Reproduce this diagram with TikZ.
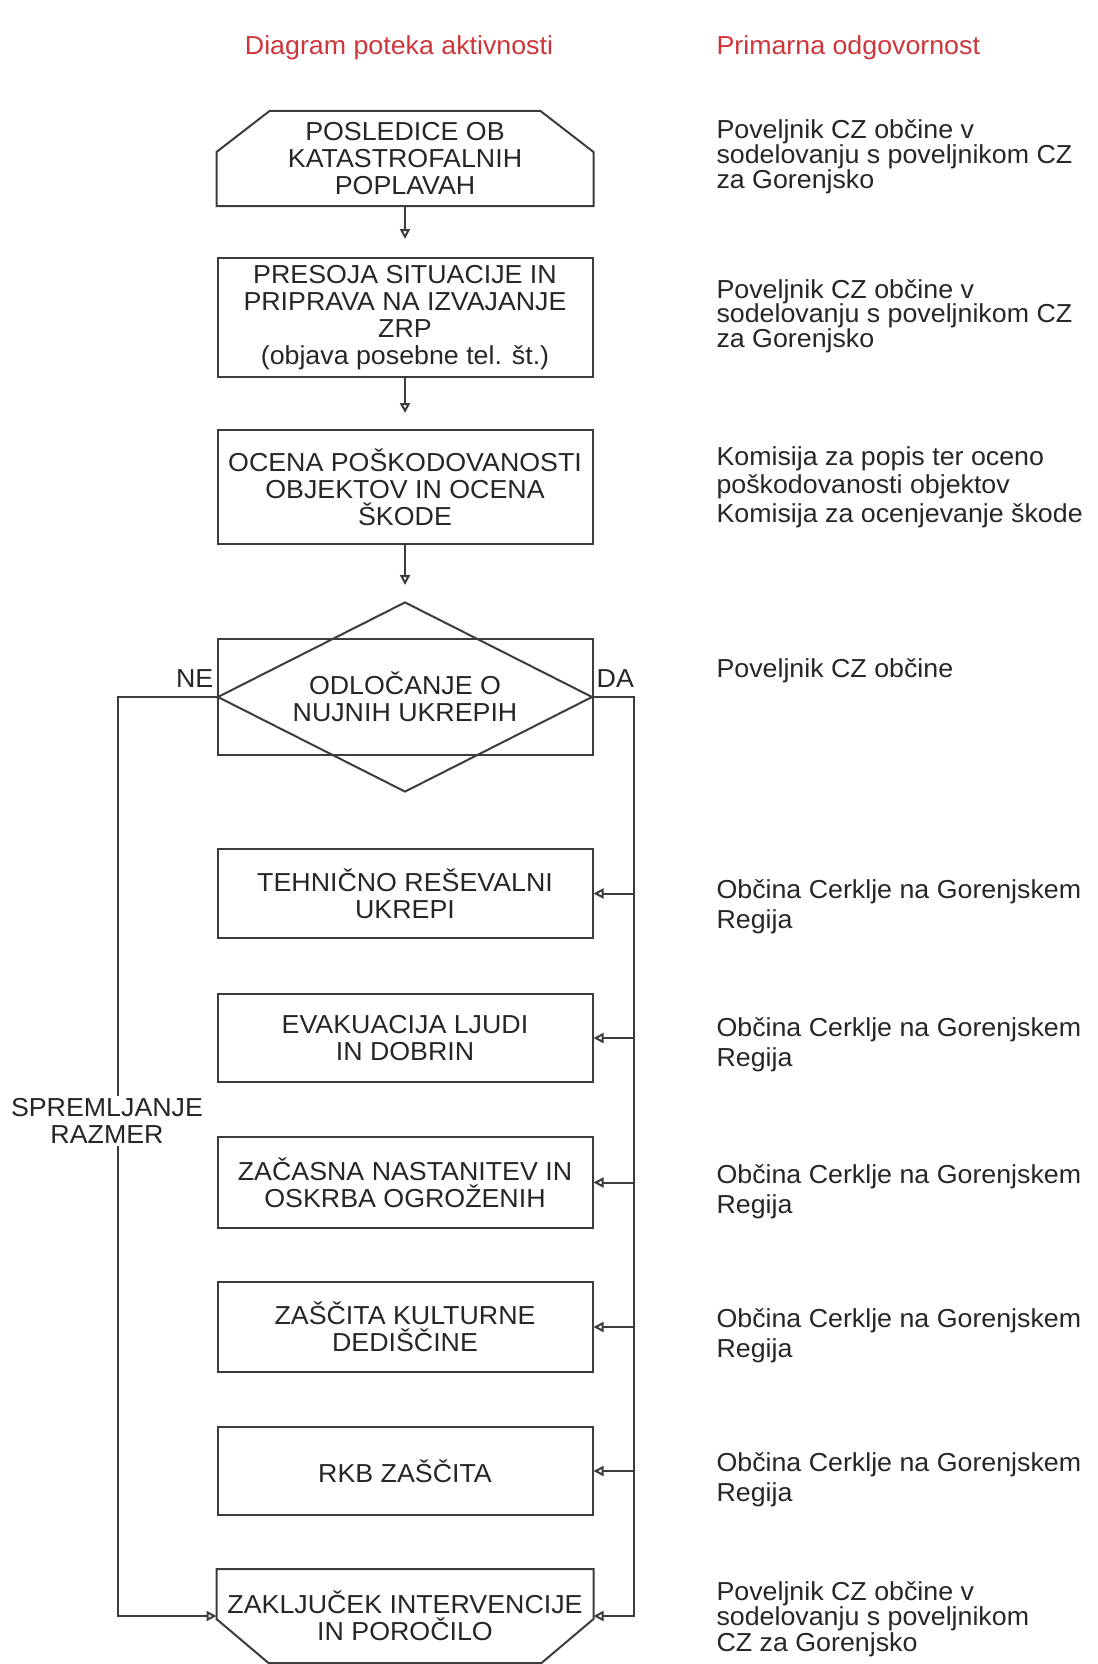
\documentclass[tikz,border=0pt]{standalone}
\usepackage{fontspec}
\setmainfont[FakeStretch=1.03]{Liberation Sans}
\usepackage{tikz}
\usetikzlibrary{shapes.geometric,arrows.meta,calc}

\definecolor{naslov}{RGB}{205,55,60}
\definecolor{crta}{RGB}{60,60,60}

\begin{document}
\begin{tikzpicture}[x=1pt,y=1pt,
  every node/.style={font=\fontsize{26}{27}\selectfont, text=black!85},
  box/.style={draw=crta, line width=2pt, minimum width=375pt, inner sep=0pt, align=center},
  obris/.style={draw=crta, line width=2pt, line join=miter},
  tok/.style={draw=crta, line width=2pt, -{Triangle[open,length=10pt,width=10pt]}},
  odg/.style={anchor=west, align=left, font=\fontsize{26}{#1}\selectfont}]
  \useasboundingbox (0,0) rectangle (1097,-1664);

  % naslova stolpcev
  \node[text=naslov] (nasl1) at (399,-48) {Diagram poteka aktivnosti};
  \node[text=naslov, anchor=west] (nasl2) at (713,-48) {Primarna odgovornost};

  % diagram poteka
  \node[box, draw=none, minimum height=93pt] (posl) at (405,-158.5) {POSLEDICE OB\\KATASTROFALNIH\\POPLAVAH};
  \draw[obris] (posl.south west) -- ([yshift=-41pt]posl.north west) -- ([xshift=53pt]posl.north west)
    -- ([xshift=-53pt]posl.north east) -- ([yshift=-41pt]posl.north east) -- (posl.south east) -- cycle;

  \node[box, minimum height=119pt] (pres) at (405,-317.5) {PRESOJA SITUACIJE IN\\PRIPRAVA NA IZVAJANJE\\ZRP\\(objava posebne tel. št.)};
  \node[box, minimum height=114pt] (ocena) at (405,-487) {OCENA POŠKODOVANOSTI\\OBJEKTOV IN OCENA\\ŠKODE};

  \node[box, minimum height=116pt] (odlok) at (405,-697) {ODLOČANJE O\\NUJNIH UKREPIH};
  \node[draw=crta, line width=2pt, diamond, aspect=2, minimum width=375pt, minimum height=190pt, inner sep=0pt] (odl) at (405,-697) {};
  \node[anchor=south east, inner sep=3pt, yshift=6pt] (ne) at (odl.west) {NE};
  \node[anchor=south west, inner sep=3pt, yshift=6pt] (da) at (odl.east) {DA};

  \node[box, minimum height=89pt] (teh) at (405,-893.5) {TEHNIČNO REŠEVALNI\\UKREPI};
  \node[box, minimum height=88pt] (eva) at (405,-1038) {EVAKUACIJA LJUDI\\IN DOBRIN};
  \node[box, minimum height=91pt] (zac) at (405,-1182.5) {ZAČASNA NASTANITEV IN\\OSKRBA OGROŽENIH};
  \node[box, minimum height=90pt] (zas) at (405,-1327) {ZAŠČITA KULTURNE\\DEDIŠČINE};
  \node[box, minimum height=88pt] (rkb) at (405,-1471) {RKB ZAŠČITA};

  \node[box, draw=none, minimum height=92pt] (zak) at (405,-1616) {ZAKLJUČEK INTERVENCIJE\\IN POROČILO};
  \draw[obris] (zak.north west) -- ([yshift=44pt]zak.south west) -- ([xshift=52pt]zak.south west)
    -- ([xshift=-52pt]zak.south east) -- ([yshift=44pt]zak.south east) -- (zak.north east) -- cycle;

  % povezave
  \draw[tok, shorten >=18pt] (posl) -- (pres);
  \draw[tok, shorten >=16pt] (pres) -- (ocena);
  \draw[tok, shorten >=16pt] (ocena) -- (odl);

  \coordinate (dl) at (118,-697);
  \coordinate (dr) at (634,-697);
  \draw[tok] (odl.west) -- (dl) |- (zak.west);
  \draw[tok] (odl.east) -- (dr) |- (zak.east);
  \foreach \b in {teh,eva,zac,zas,rkb}
    \draw[tok] (\b.east -| dr) -- (\b.east);

  \node[fill=white, align=center, inner sep=2pt] (sprem) at (107,-1121) {SPREMLJANJE\\RAZMER};

  % primarna odgovornost
  \node[odg=24] (o1) at (713,-156.5) {Poveljnik CZ občine v\\sodelovanju s poveljnikom CZ\\za Gorenjsko};
  \node[odg=24.5] (o2) at (713,-316) {Poveljnik CZ občine v\\sodelovanju s poveljnikom CZ\\za Gorenjsko};
  \node[odg=28.5] (o3) at (713,-487) {Komisija za popis ter oceno\\poškodovanosti objektov\\Komisija za ocenjevanje škode};
  \node[odg=27] (o4) at (713,-671) {Poveljnik CZ občine};
  \node[odg=30] (o5) at (713,-907) {Občina Cerklje na Gorenjskem\\Regija};
  \node[odg=30] (o6) at (713,-1045) {Občina Cerklje na Gorenjskem\\Regija};
  \node[odg=30] (o7) at (713,-1192) {Občina Cerklje na Gorenjskem\\Regija};
  \node[odg=30] (o8) at (713,-1336) {Občina Cerklje na Gorenjskem\\Regija};
  \node[odg=30] (o9) at (713,-1480) {Občina Cerklje na Gorenjskem\\Regija};
  \node[odg=25.5] (o10) at (713,-1619) {Poveljnik CZ občine v\\sodelovanju s poveljnikom\\CZ za Gorenjsko};
\end{tikzpicture}
\end{document}
